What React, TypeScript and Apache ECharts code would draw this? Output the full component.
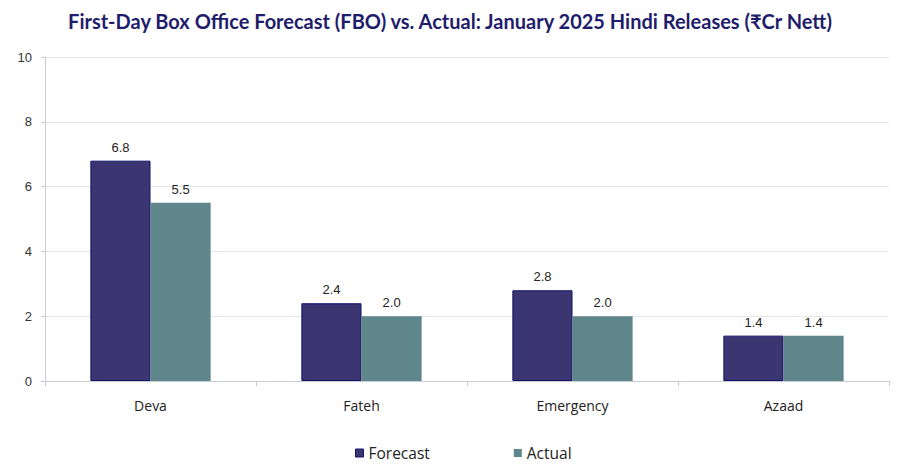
import React, { useEffect, useRef } from "react";
import * as echarts from "echarts";

const categories = ["Deva", "Fateh", "Emergency", "Azaad"];
const forecast = [6.8, 2.4, 2.8, 1.4];
const actual = [5.5, 2.0, 2.0, 1.4];
const yTicks = [0, 2, 4, 6, 8, 10];

export default function App() {
  const ref = useRef<HTMLDivElement>(null);
  useEffect(() => {
    if (!ref.current) return;
    const chart = echarts.init(ref.current, undefined, { renderer: "svg" });
    const label = {
      show: true,
      position: "top",
      distance: 7,
      color: "#222",
      fontSize: 13,
      fontFamily: "Liberation Sans",
      formatter: (p: any) => Number(p.value).toFixed(1),
    };
    chart.setOption({
      animation: false,
      backgroundColor: "#fff",
      title: {
        text: "First-Day Box Office Forecast (FBO) vs. Actual: January 2025 Hindi Releases (₹Cr Nett)",
        left: "center",
        top: 0,
        padding: [3, 5, 5, 5],
        textStyle: { color: "#1f1d6b", fontSize: 20, fontWeight: "bold", fontFamily: "Lato" },
      },
      legend: {
        bottom: 0,
        left: 342,
        padding: [5, 5, 2, 5],
        itemGap: 84,
        itemWidth: 8,
        itemHeight: 8,
        icon: "rect",
        textStyle: { fontSize: 15.5, color: "#222", fontFamily: "Open Sans" },
        data: [
          { name: "Forecast", itemStyle: { color: "#3b3571", borderColor: "#14126a", borderWidth: 1 } },
          { name: "Actual", itemStyle: { color: "#5f868b" } },
        ],
      },
      grid: { left: 37, right: 3, top: 49, bottom: 82 },
      xAxis: {
        type: "category",
        data: categories,
        axisLine: { show: true, lineStyle: { color: "#c8ccd2" } },
        axisTick: { show: true, alignWithLabel: false, length: 5, lineStyle: { color: "#c8ccd2" } },
        axisLabel: { color: "#222", fontSize: 14, margin: 17, fontFamily: "Open Sans" },
      },
      yAxis: {
        type: "value",
        min: yTicks[0],
        max: yTicks[yTicks.length - 1],
        interval: 2,
        axisLine: { show: true, lineStyle: { color: "#c8ccd2" } },
        axisTick: { show: true, length: 4, lineStyle: { color: "#c8ccd2" } },
        axisLabel: { color: "#333", fontSize: 13, margin: 13, fontFamily: "Liberation Sans" },
        splitLine: { show: true, lineStyle: { color: "#e3e6ea" } },
      },
      series: [
        {
          name: "Forecast",
          type: "bar",
          data: forecast,
          barGap: "0%",
          barCategoryGap: "43%",
          itemStyle: { color: "#3b3571", borderColor: "#14126a", borderWidth: 1 },
          label,
        },
        {
          name: "Actual",
          type: "bar",
          data: actual,
          itemStyle: { color: "#5f868b" },
          label,
        },
      ],
    });
    return () => chart.dispose();
  }, []);
  return <div ref={ref} style={{ width: 884, height: 455 }} />;
}
